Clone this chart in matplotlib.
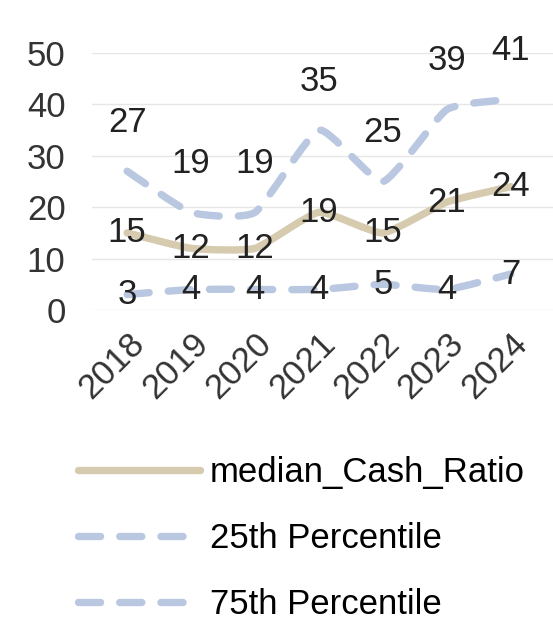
import numpy as np
import matplotlib.pyplot as plt
from matplotlib.path import Path
from matplotlib.patches import PathPatch
from matplotlib.lines import Line2D

plt.rcParams['font.family'] = ['Liberation Sans', 'DejaVu Sans']

years = ['2018', '2019', '2020', '2021', '2022', '2023', '2024']
median_cash = [15, 12, 12, 19, 15, 21, 24]
p25 = [3, 4, 4, 4, 5, 4, 7]
p75 = [27, 19, 19, 35, 25, 39, 41]

tan = '#d6cbaf'
blue = '#b9c8e0'


def smooth_path(xs, ys, k=12):
    # smoothed line drawn as cubic bezier segments through the data points
    pts = np.column_stack([xs, ys]).astype(float)
    verts = [pts[0]]
    codes = [Path.MOVETO]
    n = len(pts)
    for i in range(n - 1):
        p0 = pts[i - 1] if i > 0 else pts[i]
        p1, p2 = pts[i], pts[i + 1]
        p3 = pts[i + 2] if i + 2 < n else pts[i + 1]
        c1 = p1 + (p2 - p0) / k
        c2 = p2 - (p3 - p1) / k
        verts += [c1, c2, p2]
        codes += [Path.CURVE4] * 3
    return Path(verts, codes)


fig = plt.figure(figsize=(5.53, 6.2), dpi=100)
ax = fig.add_axes([92 / 553, 0.5, 1 - 92 / 553, (310 - 53) / 620])

x = np.arange(len(years))
lw = 5.3
dash = (0, (3, 2.6))
ax.add_patch(PathPatch(smooth_path(x, p75), fill=False, edgecolor=blue, lw=lw,
                       linestyle=dash, capstyle='round', zorder=3))
ax.add_patch(PathPatch(smooth_path(x, p25), fill=False, edgecolor=blue, lw=lw,
                       linestyle=dash, capstyle='round', zorder=3))
ax.add_patch(PathPatch(smooth_path(x, median_cash), fill=False, edgecolor=tan, lw=lw,
                       capstyle='round', zorder=3))

fs = 25
for xi, v in zip(x, p75):
    ax.annotate(str(v), (xi, v), xytext=(0, 35), textcoords='offset points',
                ha='center', va='center', fontsize=fs, color='#222222', zorder=5)
for xi, v in zip(x, median_cash):
    ax.text(xi, v, str(v), ha='center', va='center', fontsize=fs, color='#222222', zorder=5)
for xi, v in zip(x, p25):
    ax.text(xi, v, str(v), ha='center', va='center', fontsize=fs, color='#222222', zorder=5)

ax.set_xlim(-0.55, 6.66)
ax.set_ylim(0, 50)
ax.set_yticks([0, 10, 20, 30, 40, 50])
ax.set_xticks(x)
ax.set_xticklabels(years, rotation=45, ha='right', rotation_mode='anchor')
ax.tick_params(length=0, labelsize=fs, colors='#333333')
ax.tick_params(axis='y', pad=19)
ax.tick_params(axis='x', pad=12)
ax.grid(axis='y', color='#e6e6e6', lw=1)
ax.set_axisbelow(True)
for s in ax.spines.values():
    s.set_visible(False)

handles = [
    Line2D([], [], color=tan, lw=lw, solid_capstyle='round'),
    Line2D([], [], color=blue, lw=lw, linestyle=dash, dash_capstyle='round'),
    Line2D([], [], color=blue, lw=lw, linestyle=dash, dash_capstyle='round'),
]
fig.legend(handles, ['median_Cash_Ratio', '25th Percentile', '75th Percentile'],
           loc='upper left', bbox_to_anchor=(47 / 553, 1 - 425 / 620), frameon=False,
           fontsize=25, handlelength=3.5, handletextpad=0.3, labelspacing=0.95)

fig.savefig('out.png', dpi=100)
